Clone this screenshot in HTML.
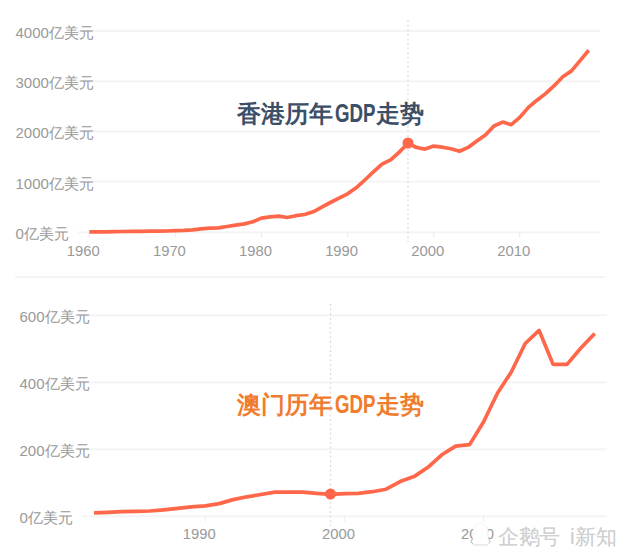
<!DOCTYPE html>
<html><head><meta charset="utf-8"><style>
html,body{margin:0;padding:0;background:#fff;width:630px;height:559px;overflow:hidden;position:relative;font-family:"Liberation Sans",sans-serif}
svg{position:absolute;left:0;top:0}
.yl{position:absolute;font-size:15px;line-height:19px;color:#999;white-space:nowrap}
.xl{position:absolute;width:60px;text-align:center;font-size:14.8px;line-height:19px;color:#999;white-space:nowrap}
.title{position:absolute;left:237px;font-size:24px;line-height:30px;font-weight:bold;white-space:nowrap;letter-spacing:0}
.gdp{display:inline-block;font-weight:bold;font-size:25px;transform:scaleX(0.745);transform-origin:0 50%;width:41px;margin-left:1.8px;margin-right:0;-webkit-text-stroke:0.15px currentColor}
.wm{position:absolute;top:523.5px;font-size:21.3px;line-height:26px;font-weight:400;color:#d0d0d0;text-shadow:0 0 0.5px rgba(0,0,0,.15);white-space:nowrap}
</style></head><body>
<svg width="630" height="559" viewBox="0 0 630 559">
<g stroke="#f4f4f4" stroke-width="2" fill="none"><line x1="78" y1="31.0" x2="600.5" y2="31.0"/><line x1="78" y1="81.3" x2="600.5" y2="81.3"/><line x1="78" y1="131.5" x2="600.5" y2="131.5"/><line x1="78" y1="181.8" x2="600.5" y2="181.8"/><line x1="78" y1="232.2" x2="600.5" y2="232.2"/><line x1="82" y1="315.2" x2="607" y2="315.2"/><line x1="82" y1="382.2" x2="607" y2="382.2"/><line x1="82" y1="449.2" x2="607" y2="449.2"/><line x1="82" y1="516.2" x2="607" y2="516.2"/><line x1="15" y1="277" x2="604.5" y2="277"/></g>
<g stroke="#ececec" stroke-width="1" fill="none"><line x1="89.3" y1="232" x2="89.3" y2="237.5"/><line x1="175.39999999999998" y1="232" x2="175.39999999999998" y2="237.5"/><line x1="261.5" y1="232" x2="261.5" y2="237.5"/><line x1="347.59999999999997" y1="232" x2="347.59999999999997" y2="237.5"/><line x1="433.7" y1="232" x2="433.7" y2="237.5"/><line x1="519.8" y1="232" x2="519.8" y2="237.5"/><line x1="205.31" y1="516" x2="205.31" y2="521.5"/><line x1="344.41" y1="516" x2="344.41" y2="521.5"/><line x1="483.51" y1="516" x2="483.51" y2="521.5"/></g>
<line x1="408" y1="20" x2="408" y2="242" stroke="#dcdcdc" stroke-width="1.3" stroke-dasharray="2 2.6"/>
<line x1="330.5" y1="304" x2="330.5" y2="526" stroke="#dcdcdc" stroke-width="1.3" stroke-dasharray="2 2.6"/>
<polyline points="89.3,231.9 97.9,231.9 106.5,231.8 115.1,231.7 123.7,231.5 132.3,231.4 141.0,231.3 149.6,231.2 158.2,231.2 166.8,231.0 175.4,230.7 184.0,230.4 192.6,229.9 201.2,228.9 209.8,228.2 218.4,227.8 227.1,226.5 235.7,225.1 244.3,223.9 252.9,221.8 261.5,218.1 270.1,216.8 278.7,216.1 287.3,217.5 295.9,215.7 304.6,214.5 313.2,211.8 321.8,207.1 330.4,202.5 339.0,198.1 347.6,193.8 356.2,187.8 364.8,180.0 373.4,171.9 382.0,164.2 390.6,159.9 399.3,152.1 407.9,143.2 416.5,147.5 425.1,149.1 433.7,146.1 442.3,147.2 450.9,148.8 459.5,151.3 468.1,147.4 476.8,141.1 485.4,135.1 494.0,126.0 502.6,122.1 511.2,124.7 519.8,117.4 528.4,107.4 537.0,100.2 545.6,93.6 554.2,85.7 562.8,76.7 571.5,70.9 580.1,60.6 588.7,50.3" fill="none" stroke="#ff674a" stroke-width="3.7" stroke-linejoin="round" stroke-linecap="butt"/>
<polyline points="94.0,512.9 107.9,512.3 121.8,511.7 135.8,511.3 149.7,511.0 163.6,509.8 177.5,508.3 191.4,506.8 205.3,505.8 219.2,503.6 233.1,499.6 247.0,496.8 260.9,494.5 274.9,492.2 288.8,492.1 302.7,492.1 316.6,493.4 330.5,494.3 344.4,493.7 358.3,493.4 372.2,491.7 386.1,489.2 400.1,481.6 414.0,476.6 427.9,467.3 441.8,454.8 455.7,446.1 469.6,444.6 483.5,422.0 497.4,393.2 511.3,372.0 525.2,343.5 539.1,330.4 553.1,364.4 567.0,364.4 580.9,348.0 594.8,333.5" fill="none" stroke="#ff674a" stroke-width="3.7" stroke-linejoin="round" stroke-linecap="butt"/>
<circle cx="408" cy="143" r="5.5" fill="#ff674a"/>
<circle cx="330.5" cy="494" r="5.5" fill="#ff674a"/>
</svg>
<div class="yl" style="left:15.5px;top:22.8px">4000亿美元</div><div class="yl" style="left:15.5px;top:73.1px">3000亿美元</div><div class="yl" style="left:15.5px;top:123.3px">2000亿美元</div><div class="yl" style="left:15.5px;top:173.60000000000002px">1000亿美元</div><div class="yl" style="left:15.5px;top:224.0px">0亿美元</div><div class="yl" style="left:19.5px;top:307.0px">600亿美元</div><div class="yl" style="left:19.5px;top:374.0px">400亿美元</div><div class="yl" style="left:19.5px;top:441.0px">200亿美元</div><div class="yl" style="left:19.5px;top:508.00000000000006px">0亿美元</div>
<div class="xl" style="left:53.3px;top:241.7px">1960</div><div class="xl" style="left:139.39999999999998px;top:241.7px">1970</div><div class="xl" style="left:225.5px;top:241.7px">1980</div><div class="xl" style="left:311.59999999999997px;top:241.7px">1990</div><div class="xl" style="left:397.7px;top:241.7px">2000</div><div class="xl" style="left:483.79999999999995px;top:241.7px">2010</div><div class="xl" style="left:169.31px;top:524.7px">1990</div><div class="xl" style="left:308.41px;top:524.7px">2000</div><div class="xl" style="left:447.51px;top:524.7px">2010</div>
<div class="title" style="top:97.5px;color:#3d4e67">香港历年<span class="gdp">GDP</span>走势</div>
<div class="title" style="top:389px;color:#f07c30">澳门历年<span class="gdp">GDP</span>走势</div>
<svg width="630" height="559" style="position:absolute;left:0;top:0">
<path d="M473.2,533 C473.2,526.5 476.5,523 480.6,523 C484.7,523 488,526.5 488,533 L488.3,539.5 L490.2,543.2 C489,544.3 486,544.6 480.6,544.6 C475.2,544.6 472.2,544.3 471,543.2 L472.9,539.5 Z" fill="rgba(255,255,255,0.96)" stroke="#efefef" stroke-width="0.8"/>
<path d="M472.6,539 L470.8,541.5 L473,544" fill="none" stroke="#9a9a9a" stroke-width="0.8"/>
<path d="M488.6,539 L490.4,541.5 L488.6,543.5" fill="none" stroke="#b5b5b5" stroke-width="0.7"/>
<line x1="473" y1="545" x2="488" y2="545" stroke="#dedede" stroke-width="0.9"/>
</svg>
<div class="wm" style="left:498px;letter-spacing:-0.3px">企鹅号</div>
<div class="wm" style="left:570px">i<span style="margin-left:0.5px">新知</span></div>
</body></html>
